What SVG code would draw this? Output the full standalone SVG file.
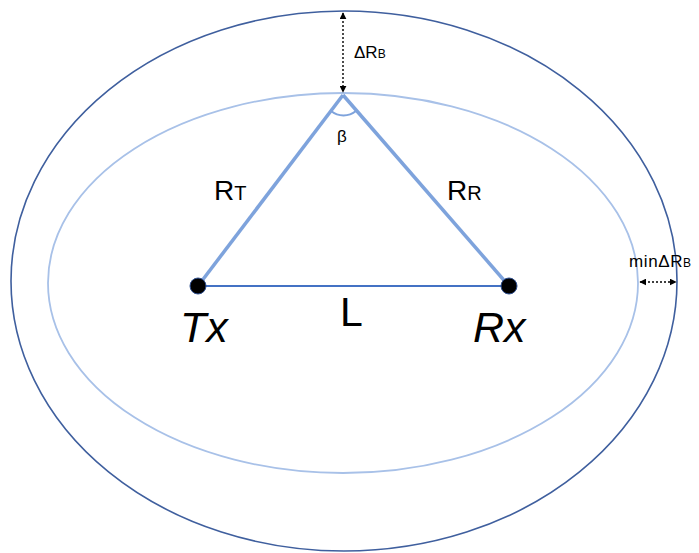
<svg xmlns="http://www.w3.org/2000/svg" width="699" height="553" viewBox="0 0 699 553">
<style>
text{font-family:"Liberation Sans","DejaVu Sans",sans-serif;fill:#000}
.outer{fill:none;stroke:#3f5f9e;stroke-width:1.6}
.inner{fill:none;stroke:#a8c1e8;stroke-width:1.8}
.side{stroke:#7ea3dc;stroke-width:3.5;fill:none}
.base{stroke:#4472c4;stroke-width:2;fill:none}
.dim{stroke:#000;stroke-width:1.4;stroke-dasharray:2 2;fill:none}
</style>
<defs>
<marker id="ah" viewBox="0 0 10 10" refX="9" refY="5" markerWidth="5" markerHeight="5" orient="auto-start-reverse">
<path d="M0,0L10,5L0,10z" fill="#000"/>
</marker>
</defs>
<g id="outer-ellipse"><ellipse class="outer" cx="344" cy="281" rx="333" ry="270"/></g>
<g id="inner-ellipse"><ellipse class="inner" cx="343" cy="283" rx="295" ry="190"/></g>
<g id="connectors">
<line class="side" x1="343" y1="95" x2="198" y2="286"/>
<line class="side" x1="343" y1="95" x2="509" y2="286"/>
<line class="base" x1="198" y1="286" x2="509" y2="286"/>
<path d="M331,111 A20,20 0 0 0 356,111" fill="none" stroke="#7ea3dc" stroke-width="2"/>
<line class="dim" x1="343" y1="13" x2="343" y2="92" marker-start="url(#ah)" marker-end="url(#ah)"/>
<line class="dim" x1="640" y1="282" x2="676" y2="282" marker-start="url(#ah)" marker-end="url(#ah)"/>
</g>
<g id="tx"><circle cx="198" cy="286" r="8" fill="#000" stroke="#2f4f8f" stroke-width="1"/><text x="180" y="342" font-size="43" font-style="italic">Tx</text></g>
<g id="rx"><circle cx="509" cy="286" r="8" fill="#000" stroke="#2f4f8f" stroke-width="1"/><text x="473" y="342" font-size="43" font-style="italic">Rx</text></g>
<g id="labels">
<text x="340" y="326" font-size="41">L</text>
<text x="214" y="200" font-size="28">R<tspan font-size="20">T</tspan></text>
<text x="447" y="200" font-size="28">R<tspan font-size="20">R</tspan></text>
<text x="337" y="142" font-size="17">β</text>
<text x="354" y="58" font-size="17">ΔR<tspan font-size="12">B</tspan></text>
<text x="629" y="267" font-size="17" letter-spacing="0.6">min<tspan>ΔR</tspan><tspan font-size="12">B</tspan></text>
</g>
</svg>
